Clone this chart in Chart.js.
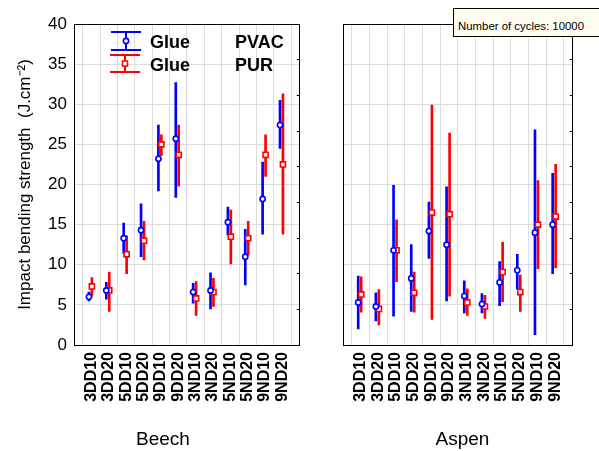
<!DOCTYPE html>
<html>
<head>
<meta charset="utf-8">
<script src="https://cdn.jsdelivr.net/npm/chart.js@4.4.1/dist/chart.umd.min.js"></script>
<style>
  body { margin: 0; background: #fff; font-family: "Liberation Sans", Arial, sans-serif; }
  #wrap { position: relative; width: 599px; height: 451px; overflow: hidden; }
  canvas { position: absolute; top: 0; }
  .lg { position: absolute; font-weight: bold; font-size: 18px; line-height: 1; color: #000; white-space: nowrap; }
  #note { position: absolute; left: 453px; top: 8px; width: 160px; height: 15px; padding: 12px 0 0 4px;
          background: #fffbef; border: 1px solid #000; font-size: 11.4px; line-height: 1; color: #000; white-space: nowrap; }
</style>
</head>
<body>
<div id="wrap">
  <canvas id="beech" width="326" height="451" style="left:0"></canvas>
  <canvas id="aspen" width="273" height="451" style="left:326px"></canvas>
  <div class="lg" style="left:150px;top:33px">Glue</div>
  <div class="lg" style="left:235px;top:33px">PVAC</div>
  <div class="lg" style="left:150px;top:56px">Glue</div>
  <div class="lg" style="left:235px;top:56px">PUR</div>
  <div id="note">Number of cycles: 10000</div>
</div>
<script>
const labels = ['3DD10', '3DD20', '5DD10', '5DD20', '9DD10', '9DD20', '3ND10', '3ND20', '5ND10', '5ND20', '9ND10', '9ND20'];

// Beech, glue PVAC
const beechPvac   = [6.0, 6.8, 13.3, 14.3, 23.2, 25.7, 6.6, 6.8, 15.3, 11.0, 18.2, 27.4];
const beechPvacLo = [5.5, 5.7, 11.4, 11.0, 19.2, 18.4, 5.2, 4.5, 13.7, 7.5, 13.8, 24.5];
const beechPvacHi = [6.6, 7.8, 15.2, 17.6, 27.4, 32.7, 7.7, 9.0, 17.2, 14.4, 22.8, 30.5];
// Beech, glue PUR
const beechPur    = [7.3, 6.8, 11.3, 13.0, 25.0, 23.7, 5.8, 6.6, 13.5, 13.3, 23.7, 22.5];
const beechPurLo  = [6.1, 4.2, 8.9, 10.6, 23.6, 19.8, 3.7, 4.8, 10.1, 11.2, 21.0, 13.8];
const beechPurHi  = [8.4, 9.1, 13.6, 15.4, 26.2, 27.4, 7.9, 8.3, 16.8, 15.4, 26.2, 31.3];
// Aspen, glue PVAC
const aspenPvac   = [5.3, 4.8, 11.8, 8.3, 14.2, 12.5, 6.1, 5.1, 7.8, 9.3, 14.0, 15.0];
const aspenPvacLo = [2.0, 3.0, 3.6, 4.2, 10.8, 5.5, 4.0, 4.0, 4.9, 7.0, 1.3, 8.9];
const aspenPvacHi = [8.6, 6.5, 19.9, 12.5, 17.8, 19.7, 8.0, 6.4, 10.4, 11.3, 26.8, 21.4];
// Aspen, glue PUR
const aspenPur    = [6.3, 4.5, 11.8, 6.5, 16.5, 16.3, 5.3, 4.8, 9.1, 6.6, 15.0, 16.0];
const aspenPurLo  = [4.1, 2.5, 7.9, 4.1, 3.2, 6.1, 3.7, 3.3, 5.4, 4.2, 9.5, 9.6];
const aspenPurHi  = [8.5, 6.9, 15.6, 9.1, 29.9, 26.4, 7.0, 6.2, 12.8, 8.7, 20.5, 22.5];

const yTicks = [0, 5, 10, 15, 20, 25, 30, 35, 40];

const BLUE = '#0000ff';
const RED = '#ff0000';
const GRID = '#dcdcdc';
const FONT = '"Liberation Sans", Arial, sans-serif';

// small side shift so the two glues sit next to each other
const shiftPvac = -0.14;
const shiftPur = 0.03;

function bars(lo, hi, shift) {
  return lo.map((v, i) => ({ x: i + 1 + shift, y: [v, hi[i]] }));
}
function points(vals, shift) {
  return vals.map((v, i) => ({ x: i + 1 + shift, y: v }));
}

function datasets(pvac, pvacLo, pvacHi, pur, purLo, purHi) {
  return [
    { type: 'scatter', data: points(pvac, shiftPvac), pointStyle: 'circle', radius: 2.6,
      borderColor: BLUE, backgroundColor: '#fff', borderWidth: 1.6, order: 1 },
    { type: 'scatter', data: points(pur, shiftPur), pointStyle: 'rect', radius: 3.6,
      borderColor: RED, backgroundColor: '#fff', borderWidth: 1.6, order: 1 },
    { type: 'bar', data: bars(pvacLo, pvacHi, shiftPvac), backgroundColor: BLUE,
      barThickness: 2, grouped: false, borderWidth: 0, order: 2 },
    { type: 'bar', data: bars(purLo, purHi, shiftPur), backgroundColor: RED,
      barThickness: 2, grouped: false, borderWidth: 0, order: 2 }
  ];
}

// legend symbols inside the Beech panel
const legendMarks = {
  id: 'legendMarks',
  afterDraw(chart) {
    const ctx = chart.ctx;
    const rows = [[BLUE, 126, 32, 50, 'circle'], [RED, 125, 55, 72, 'rect']];
    rows.forEach(([c, x, y1, y2, shape]) => {
      ctx.save();
      ctx.strokeStyle = c;
      ctx.lineWidth = 2;
      ctx.beginPath();
      ctx.moveTo(x, y1); ctx.lineTo(x, y2);
      ctx.moveTo(x - 15, y1); ctx.lineTo(x + 15, y1);
      ctx.moveTo(x - 15, y2); ctx.lineTo(x + 15, y2);
      ctx.stroke();
      const ym = (y1 + y2) / 2;
      ctx.fillStyle = '#fff';
      ctx.lineWidth = 1.6;
      ctx.beginPath();
      if (shape === 'circle') ctx.arc(x, ym, 2.6, 0, Math.PI * 2);
      else ctx.rect(x - 2.5, ym - 2.5, 5, 5);
      ctx.fill();
      ctx.stroke();
      ctx.restore();
    });
  }
};

function makeChart(id, title, ds, first) {
  return new Chart(document.getElementById(id), {
    type: 'bar',
    data: { datasets: ds },
    plugins: first ? [legendMarks] : [],
    options: {
      responsive: false,
      animation: false,
      devicePixelRatio: 1,
      layout: { padding: 0 },
      plugins: {
        legend: { display: false },
        tooltip: { enabled: false },
        title: {
          display: true, text: title, position: 'bottom', color: '#000',
          font: { family: FONT, size: 19, weight: 'normal' },
          padding: { top: 4, bottom: 0 }
        }
      },
      scales: {
        x: {
          type: 'linear', min: 0, max: 13, offset: false,
          afterBuildTicks: s => { s.ticks = labels.map((l, i) => ({ value: i })).concat([{ value: 12 }, { value: 13 }]); },
          ticks: {
            autoSkip: false, minRotation: 90, maxRotation: 90, padding: 7, color: '#000',
            font: { family: FONT, size: 16, weight: 'bold' },
            callback: v => labels[v - 1] || ''
          },
          grid: { color: GRID, drawTicks: false },
          border: { color: '#000' },
          afterFit: s => { s.height = 79.2; }
        },
        x2: {
          type: 'linear', position: 'top', min: 0, max: 13,
          ticks: { display: false },
          grid: { display: false },
          border: { color: '#000' },
          afterFit: s => { s.height = 24; }
        },
        y: {
          min: 0, max: 40,
          afterBuildTicks: s => { s.ticks = yTicks.map(v => ({ value: v })); },
          ticks: { display: first, padding: 7, color: '#000', font: { family: FONT, size: 17 } },
          grid: { color: GRID, drawTicks: false },
          border: { color: '#000' },
          title: {
            display: first, text: 'Impact bending strength  (J.cm\u207B\u00B2)', color: '#000',
            font: { family: FONT, size: 17 }, padding: { top: 15, bottom: 0 }
          },
          afterFit: s => { s.width = first ? 74 : 17; }
        },
        y2: {
          position: 'right', min: 0, max: 9,
          ticks: { display: false, stepSize: 1 },
          grid: { drawOnChartArea: false, tickLength: -3, color: '#000' },
          border: { color: '#000' },
          afterFit: s => { s.width = first ? 16 : 20; }
        }
      }
    }
  });
}

makeChart('beech', 'Beech',
  datasets(beechPvac, beechPvacLo, beechPvacHi, beechPur, beechPurLo, beechPurHi), true);
makeChart('aspen', 'Aspen',
  datasets(aspenPvac, aspenPvacLo, aspenPvacHi, aspenPur, aspenPurLo, aspenPurHi), false);
</script>
</body>
</html>
